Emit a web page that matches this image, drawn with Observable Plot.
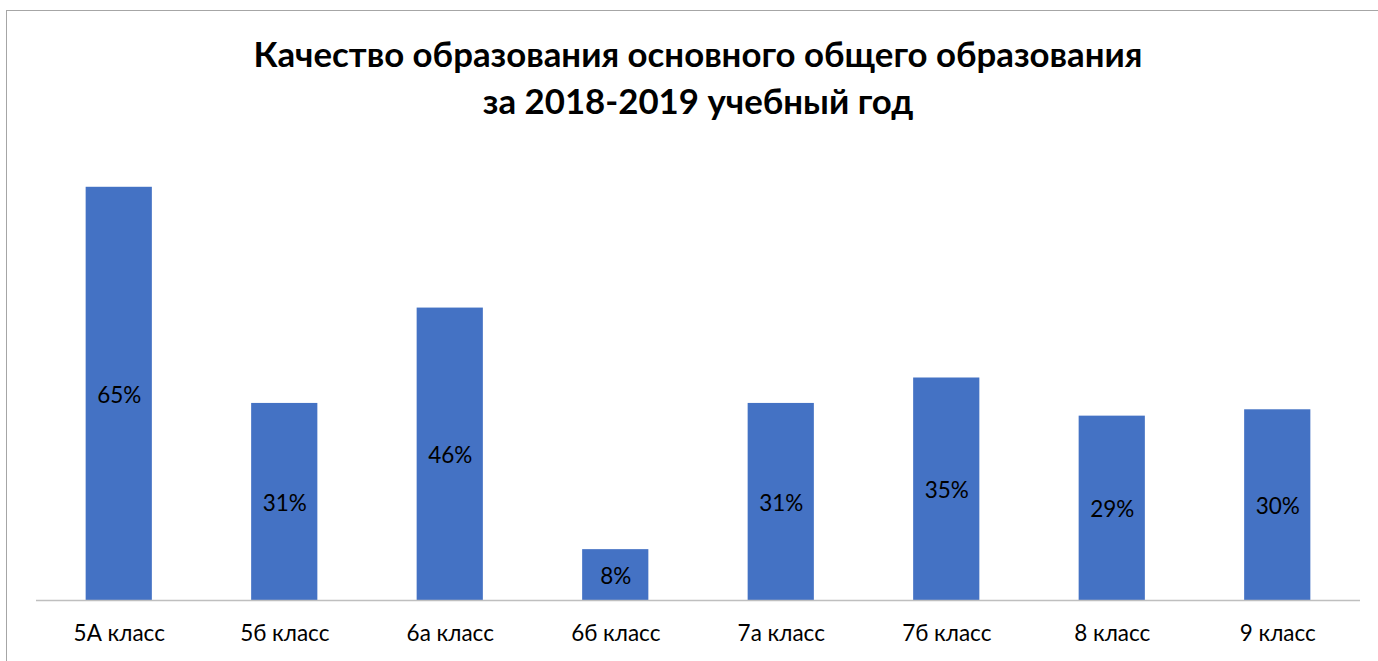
<!DOCTYPE html>
<html>
<head>
<meta charset="utf-8">
<script src="https://cdn.jsdelivr.net/npm/d3@7"></script>
<script src="https://cdn.jsdelivr.net/npm/@observablehq/plot@0.6"></script>
<style>
  html, body { margin: 0; padding: 0; background: #fff; overflow: hidden; width: 1378px; height: 661px; }
  #frame { position: absolute; left: 6px; top: 10px; width: 1400px; height: 700px; border: 1.5px solid #a6a6a6; box-sizing: border-box; }
  #title { position: absolute; left: 0; width: 1396px; top: 30px; text-align: center; font-family: Lato, "Open Sans", sans-serif; font-weight: bold; font-size: 34.8px; line-height: 47px; color: #000; }
  #chart { position: absolute; left: 0; top: 0; }
</style>
</head>
<body>
<div id="frame"></div>
<div id="chart"></div>
<div id="title">Качество образования основного общего образования<br>за 2018-2019 учебный год</div>
<script>
const categories = ["5А класс", "5б класс", "6а класс", "6б класс", "7а класс", "7б класс", "8 класс", "9 класс"];
const values = [65, 31, 46, 8, 31, 35, 29, 30];
const valueLabels = ["65%", "31%", "46%", "8%", "31%", "35%", "29%", "30%"];

const data = categories.map((c, i) => ({category: c, value: values[i], label: valueLabels[i]}));

const chart = Plot.plot({
  width: 1378,
  height: 661,
  marginLeft: 36,
  marginRight: 18,
  marginTop: 155,
  marginBottom: 61,
  style: {fontFamily: "Lato, 'Open Sans', sans-serif", background: "transparent"},
  x: {domain: categories, paddingInner: 0.6, paddingOuter: 0.3, round: false, label: null},
  y: {domain: [0, 70], axis: null},
  marks: [
    Plot.barY(data, {x: "category", y: "value", fill: "#4472C4"}),
    Plot.ruleY([0], {stroke: "#bfbfbf", strokeWidth: 1.3}),
    Plot.text(data, {x: "category", y: d => d.value / 2, text: "label", fontSize: 22.5, dy: 1.5, fill: "#000"}),
    Plot.axisX({tickSize: 0, tickPadding: 25, fontSize: 22.5, fill: "#000", label: null})
  ]
});
document.getElementById("chart").appendChild(chart);
</script>
</body>
</html>
